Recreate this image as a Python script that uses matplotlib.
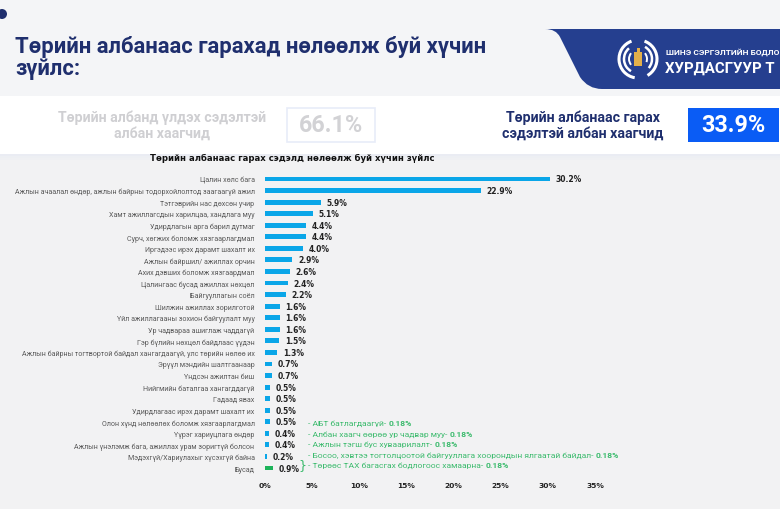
import matplotlib
matplotlib.use('Agg')
import matplotlib.pyplot as plt
from matplotlib.patches import Rectangle, PathPatch, Circle, Arc
from matplotlib.path import Path

# ---------------- data ----------------
categories = [
    "Цалин хөлс бага",
    "Ажлын ачаалал өндөр, ажлын байрны тодорхойлолтод заагаагүй ажил",
    "Тэтгэврийн нас дөхсөн учир",
    "Хамт ажиллагсдын харилцаа, хандлага муу",
    "Удирдлагын арга барил дутмаг",
    "Сурч, хөгжих боломж хязгаарлагдмал",
    "Иргэдээс ирэх дарамт шахалт их",
    "Ажлын байршил/ ажиллах орчин",
    "Ахих дэвших боломж хязгаардмал",
    "Цалингаас бусад ажиллах нөхцөл",
    "Байгууллагын соёл",
    "Шилжин ажиллах зорилготой",
    "Үйл ажиллагааны зохион байгуулалт муу",
    "Ур чадвараа ашиглаж чаддагүй",
    "Гэр бүлийн нөхцөл байдлаас үүдэн",
    "Ажлын байрны тогтвортой байдал хангагдаагүй, улс төрийн нөлөө их",
    "Эрүүл мэндийн шалтгаанаар",
    "Үндсэн ажилтан биш",
    "Нийгмийн баталгаа хангагддагүй",
    "Гадаад явах",
    "Удирдлагаас ирэх дарамт шахалт их",
    "Олон хүнд нөлөөлөх боломж хязгаарлагдмал",
    "Үүрэг хариуцлага өндөр",
    "Ажлын үнэлэмж бага, ажиллах урам зоригтүй болсон",
    "Мэдэхгүй/Хариулахыг хүсэхгүй байна",
    "Бусад",
]
values = [30.2, 22.9, 5.9, 5.1, 4.4, 4.4, 4.0, 2.9, 2.6, 2.4, 2.2, 1.6, 1.6,
          1.6, 1.5, 1.3, 0.7, 0.7, 0.5, 0.5, 0.5, 0.5, 0.4, 0.4, 0.2, 0.9]
other_label = "Бусад"

other_notes = [
    "АБТ батлагдаагүй",
    "Албан хаагч өөрөө ур чадвар муу",
    "Ажлын тэгш бус хуваарилалт",
    "Босоо, хэвтээ тогтолцоотой байгууллага хоорондын ялгаатай байдал",
    "Төрөөс ТАХ багасгах бодлогоос хамаарна",
]
other_values = [0.18, 0.18, 0.18, 0.18, 0.18]

xticks = [0, 5, 10, 15, 20, 25, 30, 35]

main_title = "Төрийн албанаас гарахад нөлөөлж буй хүчин\nзүйлс:"
chart_title = "Төрийн албанаас гарах сэдэлд нөлөөлж буй хүчин зүйлс"
kpi_labels = ["Төрийн албанд үлдэх сэдэлтэй\nалбан хаагчид",
              "Төрийн албанаас гарах\nсэдэлтэй албан хаагчид"]
kpi_values = [66.1, 33.9]
logo_small = "ШИНЭ СЭРГЭЛТИЙН БОДЛО"
logo_big = "ХУРДАСГУУР Т"

# ---------------- style ----------------
BLUE_BAR = "#0AA6E8"
GREEN = "#1DB35A"
GREEN_TXT = "#3DBB6E"
NAVY = "#1F2F6E"
BANNER = "#253F8F"

W, H = 780, 510
fig = plt.figure(figsize=(7.8, 5.1), dpi=100)
fig.patch.set_facecolor("#F4F5F7")

bg = fig.add_axes([0, 0, 1, 1])
bg.set_xlim(0, W)
bg.set_ylim(H, 0)
bg.axis("off")
bg.set_zorder(0)

bg.add_patch(Rectangle((0, 155), W, H - 155, facecolor="#F2F2F3", edgecolor="none", zorder=0))
bg.add_patch(Rectangle((0, 97), W, 58, facecolor="white", edgecolor="none", zorder=1))
for k, a in enumerate([0.35, 0.2, 0.1]):
    bg.add_patch(Rectangle((0, 155 + k * 2), W, 2, facecolor="#DDE3F3", alpha=a,
                           edgecolor="none", zorder=1))

bg.add_patch(Circle((2, 15), 5, facecolor=NAVY, edgecolor="none", zorder=2))

verts = [(545, 30), (780, 30), (780, 90), (602, 90),
         (588, 90), (580, 78),
         (560, 38),
         (556, 30), (545, 30), (545, 30)]
codes = [Path.MOVETO, Path.LINETO, Path.LINETO, Path.LINETO,
         Path.CURVE3, Path.CURVE3,
         Path.LINETO,
         Path.CURVE3, Path.CURVE3, Path.CLOSEPOLY]
bg.add_patch(PathPatch(Path(verts, codes), facecolor=BANNER, edgecolor="none", zorder=2))

cx, cy = 638, 60
for r, t1, t2, lw in [(19, 100, 250, 2.2), (19, 290, 420, 2.2), (14, 120, 230, 1.8),
                      (14, 300, 400, 1.8), (9, 140, 220, 1.4), (9, 320, 380, 1.4)]:
    bg.add_patch(Arc((cx, cy), 2 * r, 2 * r, theta1=t1, theta2=t2, color="white", lw=lw, zorder=3))
bg.add_patch(Rectangle((cx - 4, cy - 7), 8, 14, facecolor="#E3B04B", edgecolor="none", zorder=3))
bg.add_patch(Rectangle((cx - 1.5, cy - 11), 3, 5, facecolor="#E3B04B", edgecolor="none", zorder=3))
bg.text(666, 52, logo_small, color="white", fontsize=6.0, fontfamily="Roboto",
        fontweight="bold", va="center", ha="left", zorder=4)
bg.text(665, 69, logo_big, color="white", fontsize=10.8, fontfamily="Roboto",
        fontweight="bold", va="center", ha="left", zorder=4)

bg.text(15, 58, main_title, color=NAVY, fontsize=15.8, fontfamily="Roboto",
        fontweight="bold", va="center", ha="left", linespacing=0.98, zorder=4)

bg.text(162, 125.5, kpi_labels[0], color="#CFCFD2", fontsize=10.2, fontfamily="Roboto",
        fontweight="bold", ha="center", va="center", linespacing=1.08, zorder=4)
bg.add_patch(Rectangle((287, 109), 88, 34, facecolor="white", edgecolor="#E8ECF8",
                       lw=1.2, zorder=3))
bg.text(331, 126, f"{kpi_values[0]:.1f}%", color="#D2D2D5", fontsize=16.8,
        fontfamily="Roboto", fontweight="bold", ha="center", va="center", zorder=4)

bg.text(583, 125.5, kpi_labels[1], color=NAVY, fontsize=10.2, fontfamily="Roboto",
        fontweight="bold", ha="center", va="center", linespacing=1.08, zorder=4)
bg.add_patch(Rectangle((688, 109), 91, 34, facecolor="#0A5CF5", edgecolor="none", zorder=3))
bg.text(733, 126, f"{kpi_values[1]:.1f}%", color="white", fontsize=16.8,
        fontfamily="Roboto", fontweight="bold", ha="center", va="center", zorder=4)

bg.text(292, 158, chart_title, color="#111111", fontsize=6.1, fontweight="bold",
        ha="center", va="center", zorder=4)

# ---------------- chart ----------------
n = len(categories)
top_px, bot_px = 174.2, 474.8
ax = fig.add_axes([265 / W, 1 - bot_px / H, 330 / W, (bot_px - top_px) / H])
ax.set_zorder(2)
ax.patch.set_alpha(0)
ypos = list(range(n))
colors = [GREEN if c == other_label else BLUE_BAR for c in categories]
ax.barh(ypos, values, height=0.42, color=colors, zorder=3)
ax.set_xlim(0, 35)
ax.set_ylim(n - 0.5, -0.5)
ax.set_yticks(ypos)
ax.set_yticklabels(categories, fontsize=5.15, color="#5A5A5A", fontfamily="Roboto")
ax.set_xticks(xticks)
ax.set_xticklabels([f"{t}%" for t in xticks], fontsize=5.4, fontweight="bold", color="#222222")
ax.tick_params(axis="y", length=0, pad=7.5)
ax.tick_params(axis="x", length=0, pad=6)
for s in ax.spines.values():
    s.set_visible(False)

for y, v in zip(ypos, values):
    ax.annotate(f"{v:.1f}%", xy=(v, y), xytext=(4, 0), textcoords="offset points",
                va="center", ha="left", fontsize=5.5, fontweight="bold", color="#222222",
                zorder=4)

note_x = 308
note_y0 = 424
note_dy = 10.5
for k, (txt, val) in enumerate(zip(other_notes, other_values)):
    t = bg.text(note_x, note_y0 + k * note_dy, f"- {txt}- ", color=GREEN_TXT, fontsize=6.1,
                fontfamily="Roboto", ha="left", va="center", zorder=4)
    bg.annotate(f"{val:.2f}%", xy=(1, 0), xycoords=t, va="bottom", ha="left",
                color=GREEN_TXT, fontsize=6.1, fontfamily="Roboto", fontweight="bold", zorder=4)
bg.text(302.5, 466, "}", color=GREEN_TXT, fontsize=9, ha="center", va="center", zorder=4)

fig.savefig("out.png", dpi=100, facecolor=fig.get_facecolor())
